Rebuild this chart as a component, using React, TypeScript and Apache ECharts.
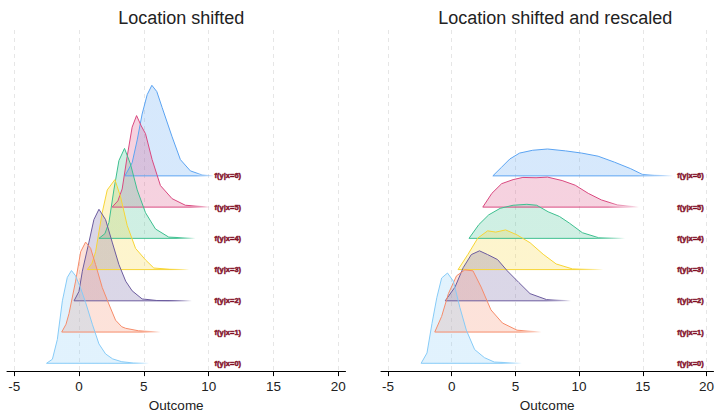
import React, { useEffect, useRef } from "react";
import * as echarts from "echarts";

const groupLabels = ["f(y|x=0)", "f(y|x=1)", "f(y|x=2)", "f(y|x=3)", "f(y|x=4)", "f(y|x=5)", "f(y|x=6)"];
const ridgeColors = ["#86cbf7", "#f68b69", "#6b5b9e", "#f7d535", "#3dbf8f", "#d9487f", "#5aa3f2"];
const xTicks = [-5, 0, 5, 10, 15, 20];
const panelTitles = ["Location shifted", "Location shifted and rescaled"];
const labelXPos = [10.45, 17.7];

// [outcome, density height in ridge units]
const left0 = [[-2.5,0],[-2.05,0.13],[-1.67,0.76],[-1.28,2.0],[-0.9,2.75],[-0.58,2.97],[-0.26,2.8],[0.13,2.4],[0.51,1.95],[1.03,1.25],[1.54,0.62],[2.05,0.3],[2.6,0.14],[3.3,0.05],[4.2,0.01],[5.4,0]];
const left1 = [[-1.33,0],[-1.0,0.25],[-0.77,0.59],[-0.26,1.63],[0.13,2.57],[0.51,2.88],[0.9,2.68],[1.28,2.16],[1.79,1.43],[2.3,0.9],[2.82,0.38],[3.3,0.17],[3.6,0.12],[4.6,0.04],[6.3,0]];
const left2 = [[-0.38,0],[0.0,0.3],[0.26,0.95],[0.77,1.88],[1.15,2.6],[1.54,2.93],[2.05,2.6],[2.56,1.88],[3.08,1.16],[3.6,0.63],[4.1,0.32],[4.87,0.06],[6.0,0.01],[8.7,0]];
const left3 = [[0.64,0],[1.0,0.2],[1.28,0.57],[1.79,1.82],[2.18,2.55],[2.77,2.88],[3.2,2.34],[3.72,1.41],[4.36,0.68],[5.13,0.31],[5.77,0.05],[7.0,0.01],[8.5,0]];
const left4 = [[1.54,0],[2.0,0.15],[2.31,0.51],[2.69,1.55],[3.08,2.49],[3.51,2.88],[3.97,2.38],[4.49,1.55],[5.13,0.82],[5.9,0.3],[6.92,0.04],[8.97,0]];
const left5 = [[2.56,0],[3.0,0.2],[3.33,0.58],[3.72,1.63],[4.1,2.56],[4.44,2.93],[4.8,2.6],[5.13,2.35],[5.64,1.52],[6.28,0.69],[7.18,0.27],[8.2,0.06],[10.1,0]];
const left6 = [[3.54,0],[4.1,0.42],[4.49,1.15],[4.87,1.98],[5.26,2.6],[5.62,2.9],[6.0,2.7],[6.41,2.19],[7.18,1.25],[7.82,0.52],[8.59,0.16],[9.49,0.03],[10.4,0]];

const right0 = [[-2.4,0],[-1.94,0.33],[-1.55,1.27],[-1.17,2.1],[-0.79,2.73],[-0.33,2.89],[0.13,2.63],[0.64,1.79],[1.15,1.06],[1.8,0.44],[2.57,0.18],[3.34,0.04],[5.5,0]];
const right1 = [[-1.33,0],[-0.79,0.5],[-0.26,1.23],[0.38,1.8],[1.03,1.99],[1.67,1.96],[2.31,1.44],[3.08,0.71],[3.98,0.29],[5.13,0.06],[7.05,0]];
const right2 = [[-0.51,0],[0.26,0.44],[0.9,1.06],[1.54,1.48],[2.18,1.6],[2.82,1.48],[3.6,1.32],[4.36,0.96],[5.26,0.59],[6.15,0.23],[7.44,0.04],[9.36,0]];
const right3 = [[0.5,0],[1.28,0.49],[2.05,1.01],[2.82,1.24],[3.46,1.2],[4.23,1.27],[5.13,1.11],[6.15,0.86],[7.18,0.49],[8.2,0.18],[9.49,0.02],[11.9,0]];
const right4 = [[1.36,0],[2.13,0.44],[2.9,0.75],[3.8,0.96],[4.82,1.06],[5.9,1.09],[6.67,1.06],[7.57,0.85],[8.46,0.7],[9.23,0.49],[10.26,0.18],[11.54,0.02],[13.6,0]];
const right5 = [[2.44,0],[3.15,0.44],[3.92,0.75],[4.82,0.88],[5.59,0.95],[6.62,0.94],[7.52,0.96],[8.67,0.85],[9.7,0.7],[10.72,0.44],[11.75,0.23],[13.0,0.07],[14.7,0]];
const right6 = [[3.23,0],[3.92,0.28],[4.56,0.54],[5.33,0.73],[6.36,0.82],[7.52,0.86],[8.93,0.8],[10.2,0.73],[11.49,0.63],[12.77,0.44],[14.05,0.23],[14.95,0.05],[15.9,0.02],[17.4,0]];

const panels = [
  [left0, left1, left2, left3, left4, left5, left6],
  [right0, right1, right2, right3, right4, right5, right6],
];

const FONT = "'Liberation Sans', Arial, sans-serif";

function rgba(hex: string, a: number) {
  const n = parseInt(hex.slice(1), 16);
  return `rgba(${(n >> 16) & 255},${(n >> 8) & 255},${n & 255},${a})`;
}

function fade(hex: string, a: number) {
  return new echarts.graphic.LinearGradient(0, 0, 1, 0, [
    { offset: 0, color: rgba(hex, a) },
    { offset: 0.8, color: rgba(hex, a) },
    { offset: 1, color: rgba(hex, 0) },
  ]);
}

export default function App() {
  const ref = useRef<HTMLDivElement>(null);
  useEffect(() => {
    if (!ref.current) return;
    const chart = echarts.init(ref.current, undefined, { renderer: "svg" });
    const grids = [
      { left: 7, top: 30, width: 338.5, height: 349 },
      { left: 381, top: 30, width: 338.5, height: 349 },
    ];
    const xAxes = grids.map((_, g) => ({
      type: "value",
      gridIndex: g,
      min: -5.55,
      max: 20.55,
      name: "Outcome",
      nameLocation: "middle",
      nameGap: 26,
      nameTextStyle: { fontFamily: FONT, fontSize: 13.5, color: "#222" },
      axisLine: { show: true, onZero: false, lineStyle: { color: "#000", width: 1 } },
      axisTick: { show: true, length: 5, customValues: xTicks, lineStyle: { color: "#000" } },
      axisLabel: { customValues: xTicks, margin: 8, fontFamily: FONT, fontSize: 13.5, color: "#222" },
      splitLine: { show: true, lineStyle: { color: "#e6e6e6", width: 1, type: [4, 4] } },
    }));
    const yAxes = grids.map((_, g) => ({
      type: "value",
      gridIndex: g,
      min: -0.25,
      max: 10.67,
      show: false,
      splitLine: { show: false },
    }));
    const series: any[] = [];
    panels.forEach((ridges, g) => {
      for (let i = ridges.length - 1; i >= 0; i--) {
        const pts = ridges[i];
        const data = pts.map(([x, h]) => [x, i + h]).concat([[pts[0][0], i]]);
        series.push({
          type: "line",
          xAxisIndex: g,
          yAxisIndex: g,
          data,
          symbol: "none",
          silent: true,
          lineStyle: { width: 1, color: fade(ridgeColors[i], 1) },
          areaStyle: { origin: i, color: fade(ridgeColors[i], 0.35) },
        });
      }
      series.push({
        type: "scatter",
        xAxisIndex: g,
        yAxisIndex: g,
        symbolSize: 0.1,
        itemStyle: { color: "rgba(0,0,0,0)" },
        silent: true,
        data: groupLabels.map((_, i) => [labelXPos[g], i]),
        label: {
          show: true,
          position: "right",
          distance: 0,
          formatter: (p: any) => groupLabels[p.dataIndex],
          fontFamily: FONT,
          fontSize: 7.5,
          fontWeight: "bold",
          color: "#7a0016",
          textBorderColor: "#7a0016",
          textBorderWidth: 0.6,
        },
        z: 10,
      });
    });
    chart.setOption({
      animation: false,
      backgroundColor: "#fff",
      title: panelTitles.map((t, g) => ({
        text: t,
        left: grids[g].left + grids[g].width / 2,
        textAlign: "center",
        top: 4,
        textStyle: { fontFamily: FONT, fontSize: 18, fontWeight: "normal", color: "#222" },
      })),
      grid: grids,
      xAxis: xAxes,
      yAxis: yAxes,
      series,
    });
    return () => chart.dispose();
  }, []);
  return (
    <div
      ref={ref}
      style={{ position: "absolute", left: 0, top: 0, width: 717, height: 417 }}
    />
  );
}
